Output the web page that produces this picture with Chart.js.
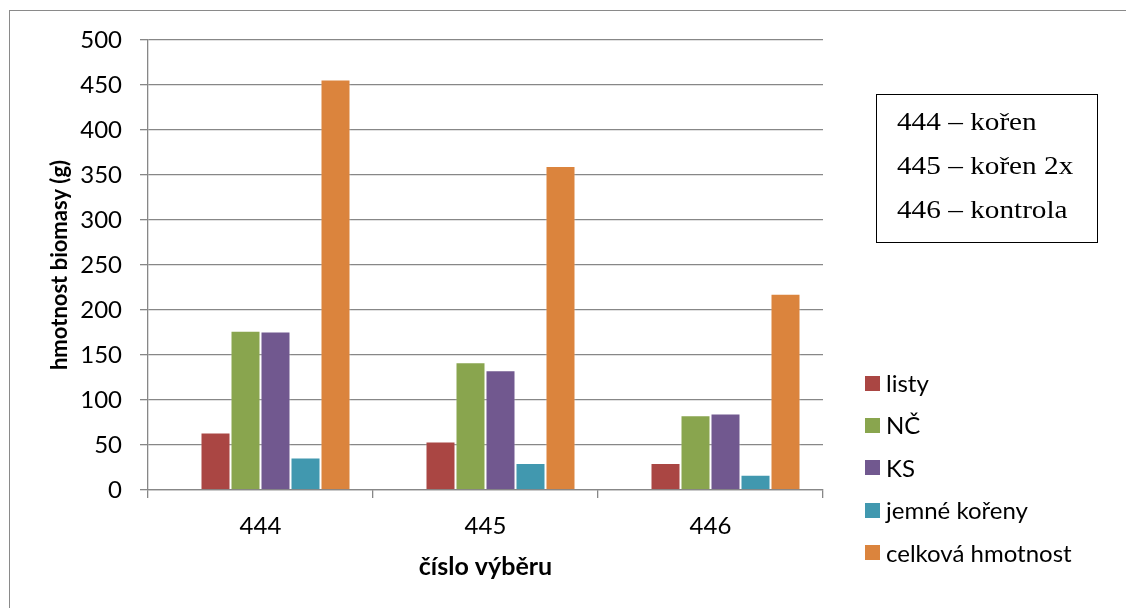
<!DOCTYPE html>
<html>
<head>
<meta charset="utf-8">
<script src="https://cdn.jsdelivr.net/npm/chart.js@4.4.1/dist/chart.umd.min.js"></script>
<style>
  html, body { margin: 0; padding: 0; background: #fff; }
  body { width: 1126px; height: 608px; position: relative; overflow: hidden; }
  #frame { position: absolute; left: 9px; top: 10px; width: 1300px; height: 800px; border: 1px solid #8a8a8a; box-sizing: border-box; }
  #wrap { position: absolute; left: 0; top: 0; width: 1126px; height: 608px; }
  #legend { position: absolute; left: 865px; top: 369px; font-family: Lato, "Open Sans", sans-serif; font-size: 24px; color: #000; }
  #legend .item { position: relative; height: 42.4px; line-height: 28px; padding-left: 21px; white-space: nowrap; }
  #legend .box { position: absolute; left: 0; top: 6.5px; width: 15px; height: 15px; }
  #note { position: absolute; left: 876px; top: 94px; width: 222px; height: 149px; box-sizing: border-box; border: 1px solid #000; font-family: "Liberation Serif", "Times New Roman", serif; font-size: 25px; color: #000; padding: 13px 0 0 20px; }
  #note div { height: 44px; line-height: 28px; white-space: nowrap; transform: scaleX(1.17); transform-origin: 0 50%; }
</style>
</head>
<body>
<div id="frame"></div>
<div id="wrap"><canvas id="c" width="1126" height="608"></canvas></div>
<div id="note">
  <div>444 – kořen</div>
  <div>445 – kořen 2x</div>
  <div>446 – kontrola</div>
</div>
<div id="legend"></div>
<script>
// Biomass per plot (g)
const categories = ['444', '445', '446'];
const seriesNames = ['listy', 'NČ', 'KS', 'jemné kořeny', 'celková hmotnost'];
const listy = [64, 54, 30];
const nc = [177, 142, 83];
const ks = [176, 133, 85];
const jemneKoreny = [36, 30, 17];
const celkovaHmotnost = [456, 360, 218];
const yTicks = [0, 50, 100, 150, 200, 250, 300, 350, 400, 450, 500];

const seriesValues = [listy, nc, ks, jemneKoreny, celkovaHmotnost];
const seriesColors = ['#AA4643', '#89A54E', '#71588F', '#4198AF', '#DB843D'];

// The workbook keeps an empty first series, which still takes a slot in each group.
const datasets = [{
  label: '', data: categories.map(() => null), backgroundColor: '#4572A7', spacer: true
}].concat(seriesNames.map((name, i) => ({
  label: name,
  data: seriesValues[i],
  backgroundColor: seriesColors[i],
  borderColor: 'rgba(255,255,255,0.35)',
  borderWidth: 1
})));

const tickFont = { family: 'Lato, "Open Sans", sans-serif', size: 24 };
const xTitleFont = { family: 'Lato, "Open Sans", sans-serif', size: 25, weight: 'bold' };
const yTitleFont = { family: 'Lato, "Open Sans", sans-serif', size: 22, weight: 'bold' };
const axisGray = '#878787';

const chart = new Chart(document.getElementById('c'), {
  type: 'bar',
  data: { labels: categories, datasets: datasets },
  options: {
    responsive: false,
    animation: false,
    events: [],
    layout: { padding: { left: 0, top: 40, right: 303, bottom: 0 } },
    datasets: { bar: { categoryPercentage: 0.8, barPercentage: 1.0 } },
    plugins: { legend: { display: false }, tooltip: { enabled: false } },
    scales: {
      x: {
        offset: true,
        grid: { offset: true, drawOnChartArea: false, drawTicks: true, tickLength: 8, color: axisGray, lineWidth: 1.3 },
        border: { color: axisGray, width: 1.3 },
        ticks: { font: tickFont, color: '#000', padding: 13.5 },
        title: { display: true, text: 'číslo výběru', font: xTitleFont, color: '#000', padding: { top: 0, bottom: 26 } },
        afterFit: (s) => { s.height = 118; }
      },
      y: {
        min: 0, max: 500,
        afterBuildTicks: (s) => { s.ticks = yTicks.map(v => ({ value: v })); },
        grid: { color: axisGray, lineWidth: 1.3, tickLength: 8 },
        border: { color: axisGray, width: 1.3 },
        ticks: { font: tickFont, color: '#000', padding: 18 },
        title: { display: true, text: 'hmotnost biomasy (g)', font: yTitleFont, color: '#000', padding: { top: 47, bottom: 0 } },
        afterFit: (s) => { s.width = 148; }
      }
    }
  }
});

// Series legend, built from the chart's own datasets
const legendEl = document.getElementById('legend');
chart.data.datasets.filter(d => !d.spacer).forEach(d => {
  const item = document.createElement('div');
  item.className = 'item';
  const box = document.createElement('span');
  box.className = 'box';
  box.style.background = d.backgroundColor;
  item.appendChild(box);
  item.appendChild(document.createTextNode(d.label));
  legendEl.appendChild(item);
});
</script>
</body>
</html>
